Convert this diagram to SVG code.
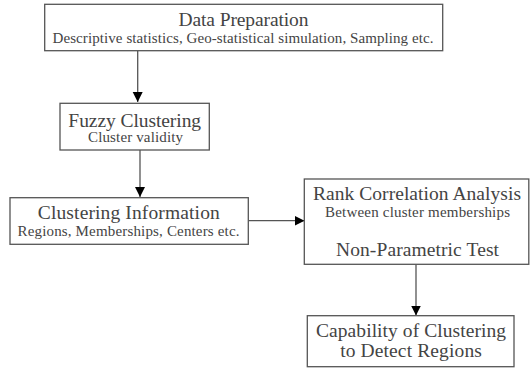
<svg xmlns="http://www.w3.org/2000/svg" width="530" height="368" viewBox="0 0 530 368">
<style>
.box{fill:#fff;stroke:#555;stroke-width:1.3}
.t{font-family:"Liberation Serif","Times New Roman",serif;fill:#444;text-anchor:middle;font-size:19.5px}
.s{font-family:"Liberation Serif","Times New Roman",serif;fill:#444;text-anchor:middle;font-size:15px}
.c{stroke:#555;stroke-width:1.3;fill:none;marker-end:url(#ah)}
</style>
<defs>
<marker id="ah" markerUnits="userSpaceOnUse" markerWidth="10" markerHeight="12" refX="10" refY="5" orient="auto" viewBox="0 0 10 10">
<path d="M0,0 L10,5 L0,10 Z" fill="#000"/>
</marker>
</defs>
<rect width="530" height="368" fill="#fff"/>
<g id="connectors">
<line class="c" x1="137.7" y1="51" x2="137.7" y2="102"/>
<line class="c" x1="140" y1="150" x2="140" y2="197"/>
<line class="c" x1="248.5" y1="220.7" x2="304.5" y2="220.7"/>
<line class="c" x1="416" y1="264.5" x2="416" y2="315.5"/>
</g>
<g id="data-preparation">
<rect class="box" x="44.7" y="4.3" width="398" height="46.4"/>
<text class="t" x="243.5" y="26" textLength="130" lengthAdjust="spacing">Data Preparation</text>
<text class="s" x="243" y="43.3" textLength="381" lengthAdjust="spacing">Descriptive statistics, Geo-statistical simulation, Sampling etc.</text>
</g>
<g id="fuzzy-clustering">
<rect class="box" x="60" y="103.3" width="149.3" height="46.7"/>
<text class="t" x="134.7" y="126.5" textLength="132.7" lengthAdjust="spacing">Fuzzy Clustering</text>
<text class="s" x="135.5" y="142.3" textLength="95" lengthAdjust="spacing">Cluster validity</text>
</g>
<g id="clustering-information">
<rect class="box" x="10" y="197.7" width="238.3" height="46.6"/>
<text class="t" x="128.8" y="219.3" textLength="182" lengthAdjust="spacing">Clustering Information</text>
<text class="s" x="128.5" y="236" textLength="222" lengthAdjust="spacing">Regions, Memberships, Centers etc.</text>
</g>
<g id="rank-correlation">
<rect class="box" x="304.3" y="179" width="224.5" height="85.3"/>
<text class="t" x="417" y="200" textLength="208" lengthAdjust="spacing">Rank Correlation Analysis</text>
<text class="s" x="417.5" y="217.3" textLength="185" lengthAdjust="spacing">Between cluster memberships</text>
<text class="t" x="417.5" y="256" textLength="163" lengthAdjust="spacing">Non-Parametric Test</text>
</g>
<g id="capability">
<rect class="box" x="307.3" y="315.7" width="206.7" height="51"/>
<text class="t" x="411" y="336.7" textLength="190" lengthAdjust="spacing">Capability of Clustering</text>
<text class="t" x="411" y="356.7" textLength="141.7" lengthAdjust="spacing">to Detect Regions</text>
</g>
</svg>
